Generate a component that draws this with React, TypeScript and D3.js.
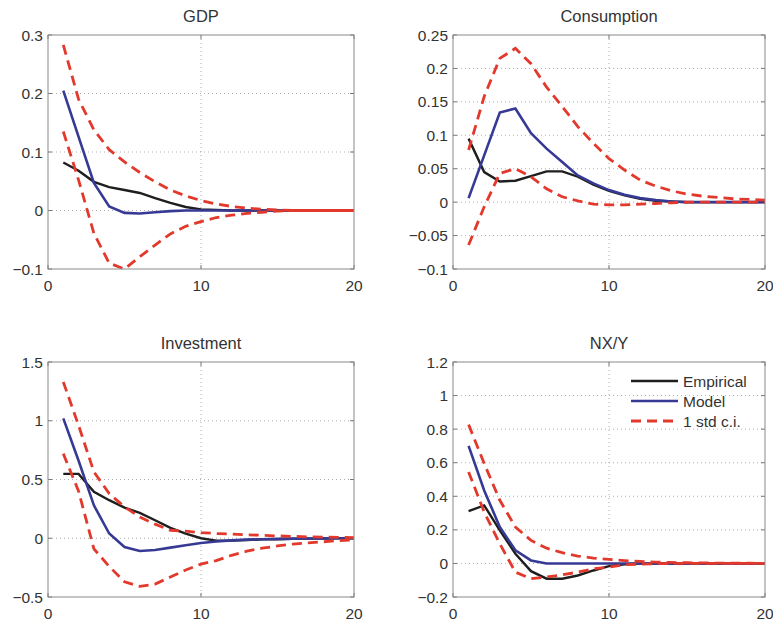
import React from "react";
import * as d3 from "d3";

const periods = d3.range(1, 21);

const gdpEmpirical = [0.082, 0.068, 0.049, 0.04, 0.035, 0.03, 0.021, 0.013, 0.006, 0.002, 0.001, 0, 0, 0, 0, 0, 0, 0, 0, 0];
const gdpModel = [0.205, 0.126, 0.047, 0.007, -0.004, -0.005, -0.003, -0.001, 0, 0, 0, 0, 0, 0, 0, 0, 0, 0, 0, 0];
const gdpUpper = [0.283, 0.19, 0.138, 0.104, 0.083, 0.065, 0.049, 0.035, 0.025, 0.017, 0.011, 0.007, 0.004, 0.002, 0.001, 0, 0, 0, 0, 0];
const gdpLower = [0.135, 0.052, -0.039, -0.09, -0.1, -0.079, -0.059, -0.04, -0.027, -0.019, -0.012, -0.008, -0.005, -0.003, -0.001, 0, 0, 0, 0, 0];

const consEmpirical = [0.095, 0.045, 0.031, 0.032, 0.039, 0.046, 0.046, 0.038, 0.026, 0.017, 0.01, 0.005, 0.002, 0.001, 0, 0, 0, 0, 0, 0];
const consModel = [0.006, 0.07, 0.134, 0.14, 0.103, 0.08, 0.06, 0.04, 0.028, 0.018, 0.011, 0.006, 0.003, 0.001, 0, 0, 0, 0, 0, 0];
const consUpper = [0.078, 0.158, 0.215, 0.23, 0.207, 0.172, 0.143, 0.113, 0.088, 0.065, 0.048, 0.033, 0.024, 0.017, 0.012, 0.009, 0.007, 0.005, 0.004, 0.003];
const consLower = [-0.064, -0.007, 0.043, 0.05, 0.038, 0.02, 0.008, 0.002, -0.003, -0.004, -0.004, -0.003, -0.002, -0.001, 0, 0, 0, 0, 0, 0];

const invEmpirical = [0.548, 0.548, 0.395, 0.324, 0.26, 0.216, 0.153, 0.088, 0.04, 0, -0.02, -0.02, -0.015, -0.01, -0.008, -0.005, -0.003, -0.002, -0.001, 0];
const invModel = [1.02, 0.66, 0.28, 0.04, -0.074, -0.108, -0.1, -0.08, -0.06, -0.04, -0.028, -0.018, -0.012, -0.008, -0.005, -0.003, -0.002, -0.001, 0, 0];
const invUpper = [1.33, 0.96, 0.565, 0.38, 0.267, 0.18, 0.12, 0.068, 0.06, 0.048, 0.04, 0.035, 0.03, 0.025, 0.02, 0.016, 0.012, 0.01, 0.008, 0.006];
const invLower = [0.72, 0.4, -0.09, -0.24, -0.37, -0.41, -0.39, -0.33, -0.27, -0.22, -0.19, -0.145, -0.11, -0.085, -0.065, -0.05, -0.04, -0.03, -0.02, -0.015];

const nxEmpirical = [0.312, 0.346, 0.197, 0.058, -0.046, -0.091, -0.091, -0.072, -0.042, -0.016, -0.005, 0, 0, 0, 0, 0, 0, 0, 0, 0];
const nxModel = [0.7, 0.435, 0.217, 0.078, 0.018, 0, 0, 0, 0, 0, 0, 0, 0, 0, 0, 0, 0, 0, 0, 0];
const nxUpper = [0.827, 0.595, 0.376, 0.217, 0.137, 0.091, 0.064, 0.044, 0.032, 0.024, 0.017, 0.012, 0.008, 0.006, 0.004, 0.003, 0.002, 0.001, 0.001, 0];
const nxLower = [0.545, 0.306, 0.117, -0.052, -0.091, -0.081, -0.068, -0.052, -0.032, -0.022, -0.008, -0.004, -0.002, 0, 0, 0, 0, 0, 0, 0];

const xTicks = [0, 10, 20];
const gdpTicks = [-0.1, 0, 0.1, 0.2, 0.3];
const consTicks = [-0.1, -0.05, 0, 0.05, 0.1, 0.15, 0.2, 0.25];
const invTicks = [-0.5, 0, 0.5, 1, 1.5];
const nxTicks = [-0.2, 0, 0.2, 0.4, 0.6, 0.8, 1, 1.2];

const legendLabels = ["Empirical", "Model", "1 std c.i."];

const BLACK = "#1e1e1e";
const BLUE = "#363a94";
const RED = "#e2392c";
const FONT = "'Liberation Sans', Arial, sans-serif";

const fmt = (v: number) => {
  if (v === 0) return "0";
  const s = String(Math.abs(v));
  return (v < 0 ? "\u2212" : "") + s;
};

type PanelProps = {
  title: string;
  left: number;
  top: number;
  width: number;
  height: number;
  yTicks: number[];
  empirical: number[];
  model: number[];
  upper: number[];
  lower: number[];
  legend?: boolean;
  clipId: string;
};

function Panel(p: PanelProps) {
  const x = d3.scaleLinear().domain([0, 20]).range([p.left, p.left + p.width]);
  const yDom = d3.extent(p.yTicks) as [number, number];
  const y = d3.scaleLinear().domain(yDom).range([p.top + p.height, p.top]);
  const line = d3
    .line<number>()
    .x((_, i) => x(periods[i]))
    .y((d) => y(d));

  return (
    <g>
      <defs>
        <clipPath id={p.clipId}>
          <rect x={p.left} y={p.top - 2} width={p.width} height={p.height + 4} />
        </clipPath>
      </defs>
      <rect x={p.left} y={p.top} width={p.width} height={p.height} fill="#fff" />
      {/* grid */}
      {p.yTicks.slice(1, -1).map((t) => (
        <line key={"gy" + t} x1={p.left} x2={p.left + p.width} y1={y(t)} y2={y(t)}
          stroke="#9a9a9a" strokeWidth={0.8} strokeDasharray="1,3" />
      ))}
      <line x1={x(10)} x2={x(10)} y1={p.top} y2={p.top + p.height}
        stroke="#9a9a9a" strokeWidth={0.8} strokeDasharray="1,3" />
      {/* ticks */}
      {p.yTicks.map((t) => (
        <g key={"ty" + t}>
          <line x1={p.left} x2={p.left + 4} y1={y(t)} y2={y(t)} stroke="#777" />
          <line x1={p.left + p.width - 4} x2={p.left + p.width} y1={y(t)} y2={y(t)} stroke="#777" />
          <text x={p.left - 5} y={y(t) + 5.5} textAnchor="end" fontSize={15.5} fill="#333" fontFamily={FONT}>
            {fmt(t)}
          </text>
        </g>
      ))}
      {xTicks.map((t) => (
        <g key={"tx" + t}>
          <line x1={x(t)} x2={x(t)} y1={p.top + p.height} y2={p.top + p.height - 4} stroke="#777" />
          <line x1={x(t)} x2={x(t)} y1={p.top} y2={p.top + 4} stroke="#777" />
          <text x={x(t)} y={p.top + p.height + 22} textAnchor="middle" fontSize={15.5} fill="#333" fontFamily={FONT}>
            {t}
          </text>
        </g>
      ))}
      <g clipPath={`url(#${p.clipId})`} fill="none">
        <path d={line(p.empirical) || ""} stroke={BLACK} strokeWidth={2.4} />
        <path d={line(p.model) || ""} stroke={BLUE} strokeWidth={2.6} />
        <path d={line(p.upper) || ""} stroke={RED} strokeWidth={2.8} strokeDasharray="10,6" />
        <path d={line(p.lower) || ""} stroke={RED} strokeWidth={2.8} strokeDasharray="10,6" />
      </g>
      <rect x={p.left} y={p.top} width={p.width} height={p.height} fill="none" stroke="#8a8a8a" strokeWidth={1} />
      <text x={p.left + p.width / 2} y={p.top - 13.5} textAnchor="middle" fontSize={16.5} fill="#333" fontFamily={FONT}>
        {p.title}
      </text>
      {p.legend &&
        legendLabels.map((lab, i) => {
          const ly = p.top + 19 + i * 20;
          const lx = p.left + 178;
          const col = [BLACK, BLUE, RED][i];
          return (
            <g key={lab}>
              <line x1={lx} x2={lx + 47} y1={ly} y2={ly} stroke={col} strokeWidth={i === 2 ? 2.8 : 2.4}
                strokeDasharray={i === 2 ? "10,6" : undefined} />
              <text x={lx + 52} y={ly + 5.5} fontSize={15.5} fill="#333" fontFamily={FONT}>
                {lab}
              </text>
            </g>
          );
        })}
    </g>
  );
}

export default function App() {
  const w = 306;
  const h = 234;
  return (
    <svg width={773} height={622} style={{ position: "absolute", left: 0, top: 0, background: "#fff" }}>
      <rect width={773} height={622} fill="#fff" />
      <Panel title="GDP" left={48} top={35} width={w} height={h} yTicks={gdpTicks}
        empirical={gdpEmpirical} model={gdpModel} upper={gdpUpper} lower={gdpLower} clipId="c1" />
      <Panel title="Consumption" left={453} top={35} width={312} height={h} yTicks={consTicks}
        empirical={consEmpirical} model={consModel} upper={consUpper} lower={consLower} clipId="c2" />
      <Panel title="Investment" left={48} top={362} width={w} height={235} yTicks={invTicks}
        empirical={invEmpirical} model={invModel} upper={invUpper} lower={invLower} clipId="c3" />
      <Panel title="NX/Y" left={453} top={362} width={312} height={235} yTicks={nxTicks}
        empirical={nxEmpirical} model={nxModel} upper={nxUpper} lower={nxLower} legend clipId="c4" />
    </svg>
  );
}
